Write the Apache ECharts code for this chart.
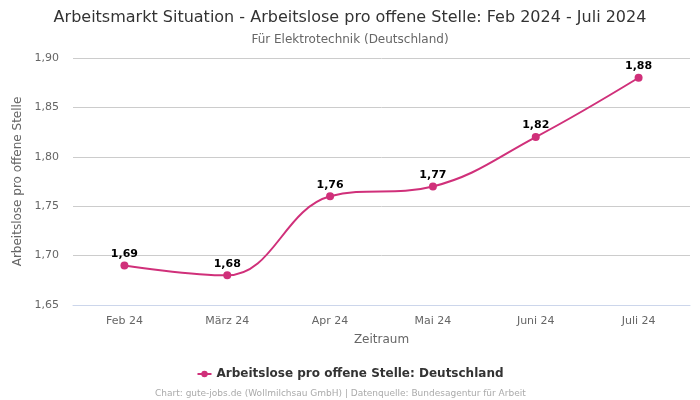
<!DOCTYPE html>
<html><head><meta charset="utf-8">
<script src="https://cdn.jsdelivr.net/npm/echarts@6/dist/echarts.min.js"></script>
<style>html,body{margin:0;padding:0;background:#fff}#c{width:700px;height:400px}</style>
</head><body><div id="c"></div>
<script>
const categories = ['Feb 24', 'März 24', 'Apr 24', 'Mai 24', 'Juni 24', 'Juli 24'];
const values = [1.69, 1.68, 1.76, 1.77, 1.82, 1.88];
const seriesName = 'Arbeitslose pro offene Stelle: Deutschland';
const fmt = v => v.toFixed(2).replace('.', ',');
const chart = echarts.init(document.getElementById('c'));
chart.setOption({
  backgroundColor: '#fff',
  textStyle: { fontFamily: 'DejaVu Sans' },
  title: [
    { text: 'Arbeitsmarkt Situation - Arbeitslose pro offene Stelle: Feb 2024 - Juli 2024', left: 'center', top: 5,
      textStyle: { fontSize: 16, fontWeight: 'normal', color: '#333', fontFamily: 'DejaVu Sans' } },
    { text: 'Für Elektrotechnik (Deutschland)', left: 'center', top: 29,
      textStyle: { fontSize: 12, fontWeight: 'normal', color: '#666', fontFamily: 'DejaVu Sans' } },
    { text: 'Chart: gute-jobs.de (Wollmilchsau GmbH) | Datenquelle: Bundesagentur für Arbeit', left: 150, top: 384,
      textStyle: { fontSize: 9, fontWeight: 'normal', color: '#aaa', fontFamily: 'DejaVu Sans' } }
  ],
  legend: {
    data: [seriesName], bottom: 15, left: 'center', itemWidth: 14, itemHeight: 8,
    textStyle: { fontSize: 12, fontWeight: 'bold', color: '#333', fontFamily: 'DejaVu Sans' }
  },
  grid: { left: 73, right: 10, top: 58, bottom: 95 },
  xAxis: {
    type: 'category', data: categories, boundaryGap: true,
    name: 'Zeitraum', nameLocation: 'middle', nameGap: 29,
    nameTextStyle: { fontSize: 12, color: '#666' },
    axisLine: { lineStyle: { color: '#ccd6eb' } },
    axisTick: { show: false },
    axisLabel: { fontSize: 11, color: '#666', margin: 11 }
  },
  yAxis: {
    type: 'value', min: 1.65, max: 1.90, interval: 0.05,
    name: 'Arbeitslose pro offene Stelle', nameLocation: 'middle', nameGap: 40,
    nameTextStyle: { fontSize: 12, color: '#666' },
    axisLabel: { fontSize: 11, color: '#666', formatter: fmt, margin: 14 },
    splitLine: { lineStyle: { color: '#ccc' } },
    axisLine: { show: false }, axisTick: { show: false }
  },
  series: [{
    name: seriesName, type: 'line', data: values, smooth: 0.4,
    symbol: 'circle', symbolSize: 8,
    itemStyle: { color: '#d0307a' },
    lineStyle: { color: '#d0307a', width: 2 },
    label: { show: true, position: 'top', formatter: p => fmt(p.value),
      fontSize: 11, fontWeight: 'bold', color: '#000', distance: 2 }
  }]
});
</script></body></html>
